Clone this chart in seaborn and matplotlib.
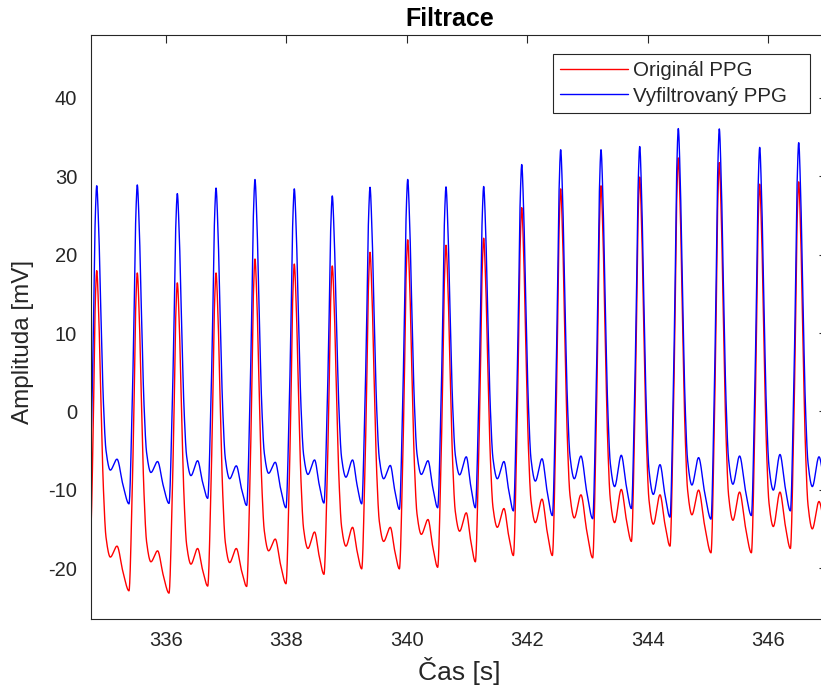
import numpy as np
import pandas as pd
import matplotlib
matplotlib.use("Agg")
import matplotlib.pyplot as plt
import seaborn as sns

# ---------------- data ----------------
# time of each systolic peak [s]
peak_t = [334.849, 335.523, 336.188, 336.831, 337.478, 338.131, 338.762,
          339.389, 340.015, 340.651, 341.277, 341.909, 342.556, 343.226,
          343.869, 344.510, 345.191, 345.862, 346.510]

# filtered (blue) signal, per beat [mV]
blue_peak = [28.8, 28.9, 27.8, 28.5, 29.6, 28.4, 27.5, 28.6, 29.6, 28.65,
             28.7, 31.5, 33.4, 33.4, 33.8, 36.1, 36.05, 33.7, 34.3]
blue_notch = [-7.5, -7.8, -8.2, -8.6, -7.9, -8.05, -8.4, -8.6, -8.05, -8.1,
              -8.6, -8.9, -8.6, -9.6, -10.6, -9.4, -9.3, -10.05, -9.6]
blue_dicrotic = [-6.1, -6.4, -6.3, -6.95, -6.5, -6.2, -6.2, -6.9, -6.3, -5.8,
                 -6.4, -6.05, -5.7, -5.6, -6.8, -5.9, -5.7, -5.5, -5.8]
# foot before each beat (last entry: foot after the last beat)
blue_foot = [-14.5, -11.8, -11.75, -11.1, -12.0, -12.3, -11.7, -11.8, -12.5,
             -12.3, -12.3, -12.7, -13.3, -13.7, -12.4, -13.5, -13.75, -13.3,
             -12.7, -12.0]

# original (red) signal, per beat [mV]
red_peak = [17.96, 17.66, 16.4, 17.66, 19.45, 18.8, 18.56, 20.3, 21.9, 21.2,
            22.1, 26.0, 28.4, 28.8, 29.9, 32.35, 31.75, 29.0, 29.3]
red_notch = [-18.6, -19.2, -19.5, -19.3, -17.8, -17.5, -17.2, -16.6, -15.7,
             -15.3, -14.8, -14.2, -13.6, -14.2, -14.4, -13.2, -13.9, -14.7,
             -15.0]
red_dicrotic = [-17.2, -17.8, -17.5, -17.5, -16.3, -15.4, -14.8, -14.8, -13.8,
                -12.95, -12.4, -11.2, -10.65, -9.96, -10.65, -10.05, -10.3,
                -10.3, -11.5]
red_foot = [-26.0, -22.9, -23.2, -22.3, -22.35, -22.0, -20.8, -20.1, -20.1,
            -19.9, -19.2, -18.4, -18.4, -18.7, -16.6, -17.2, -18.05, -18.05,
            -17.5, -17.0]

x_ticks = [336, 338, 340, 342, 344, 346]
y_ticks = [-20, -10, 0, 10, 20, 30, 40]


# ---------------- build waveform through the read key points ----------------
def key_points(pk, notch, dic, foot):
    ts, vs = [], []
    n = len(peak_t)
    for k in range(n):
        tp = peak_t[k]
        P, N, D, F = pk[k], notch[k], dic[k], foot[k]
        # upstroke
        ts += [tp - 0.138, tp - 0.083, tp - 0.055, tp - 0.025, tp]
        vs += [F, F + 0.325 * (P - F), F + 0.58 * (P - F), F + 0.9 * (P - F), P]
        # downstroke to dicrotic notch, dicrotic wave
        ts += [tp + 0.03, tp + 0.072, tp + 0.11, tp + 0.154, tp + 0.226, tp + 0.337]
        vs += [N + 0.87 * (P - N), N + 0.53 * (P - N), N + 0.245 * (P - N),
               N + 0.07 * (P - N), N, D]
        # diastolic decay towards next foot
        Fn = foot[k + 1]
        t_next_foot = (peak_t[k + 1] - 0.138) if k + 1 < n else tp + 0.525
        ts += [(tp + 0.337 + t_next_foot) / 2]
        vs += [Fn + 0.42 * (D - Fn)]
        if k + 1 == n:
            ts += [t_next_foot]
            vs += [Fn]
    return np.array(ts), np.array(vs)


def pchip(x, y, xs):
    h = np.diff(x)
    delta = np.diff(y) / h
    d = np.zeros_like(y)
    for i in range(1, len(y) - 1):
        if delta[i - 1] * delta[i] <= 0:
            d[i] = 0.0
        else:
            w1 = 2 * h[i] + h[i - 1]
            w2 = h[i] + 2 * h[i - 1]
            d[i] = (w1 + w2) / (w1 / delta[i - 1] + w2 / delta[i])
    d[0] = delta[0]
    d[-1] = delta[-1]
    idx = np.clip(np.searchsorted(x, xs) - 1, 0, len(x) - 2)
    hh = h[idx]
    s = (xs - x[idx]) / hh
    h00 = 2 * s**3 - 3 * s**2 + 1
    h10 = s**3 - 2 * s**2 + s
    h01 = -2 * s**3 + 3 * s**2
    h11 = s**3 - s**2
    return h00 * y[idx] + h10 * hh * d[idx] + h01 * y[idx + 1] + h11 * hh * d[idx + 1]


tb, vb = key_points(blue_peak, blue_notch, blue_dicrotic, blue_foot)
tr, vr = key_points(red_peak, red_notch, red_dicrotic, red_foot)
tt = np.arange(tb[0], tb[-1], 0.002)
df = pd.concat([
    pd.DataFrame({"t": tt, "v": pchip(tr, vr, tt), "s": "Originál PPG"}),
    pd.DataFrame({"t": tt, "v": pchip(tb, vb, tt), "s": "Vyfiltrovaný PPG"}),
], ignore_index=True)

# ---------------- plot ----------------
sns.set_theme(style="white")
plt.rcParams["font.family"] = ["Liberation Sans", "DejaVu Sans"]
plt.rcParams["axes.unicode_minus"] = False
plt.rcParams["axes.edgecolor"] = "#262626"
plt.rcParams["xtick.color"] = "#262626"
plt.rcParams["ytick.color"] = "#262626"

fig = plt.figure(figsize=(8.21, 6.90), dpi=100)
W, H = 821, 690
left_px, right_px, top_px, bottom_px = 90.7, 827, 35.3, 619
ax = fig.add_axes([left_px / W, 1 - bottom_px / H,
                   (right_px - left_px) / W, (bottom_px - top_px) / H])

sns.lineplot(data=df, x="t", y="v", hue="s", palette=["#ff0000", "#0000ff"],
             estimator=None, sort=False, linewidth=1.0, ax=ax)

ax.set_xlim(334.749, 346.98)
ax.set_ylim(-26.5, 48.0)
ax.set_xticks(x_ticks)
ax.set_yticks(y_ticks)
ax.tick_params(direction="in", length=5.8, width=0.8, top=True, right=True,
               labelsize=14.5, labelcolor="#262626")
ax.tick_params(axis="x", pad=9)
ax.tick_params(axis="y", pad=9.8)
for sp in ax.spines.values():
    sp.set_visible(True)
    sp.set_linewidth(0.8)
    sp.set_color("#262626")

ax.set_xlabel("Čas [s]", fontsize=19, color="#262626", labelpad=5)
ax.set_ylabel("Amplituda [mV]", fontsize=17.5, color="#262626")
ax.yaxis.set_label_coords((34 - 90.7) / (827 - 90.7), (619 - 342) / (619 - 35.3))
ax.set_title("Filtrace", fontsize=18, fontweight="bold", color="black",
             pad=7, x=(449.5 - 90.7) / (827 - 90.7))

handles, labels = ax.get_legend_handles_labels()
leg = ax.legend(handles, labels, loc="upper left",
                bbox_to_anchor=(553 / W, 1 - 111 / H, (810 - 553) / W, 57 / H),
                bbox_transform=fig.transFigure, mode="expand",
                fontsize=14.8, frameon=True, fancybox=False, framealpha=1,
                edgecolor="#262626", handlelength=3.3, handletextpad=0.22,
                borderpad=0.36, labelspacing=0.3, borderaxespad=0)
leg.get_frame().set_linewidth(0.8)
for line in leg.get_lines():
    line.set_linewidth(1.0)

fig.savefig("out.png", dpi=100)
